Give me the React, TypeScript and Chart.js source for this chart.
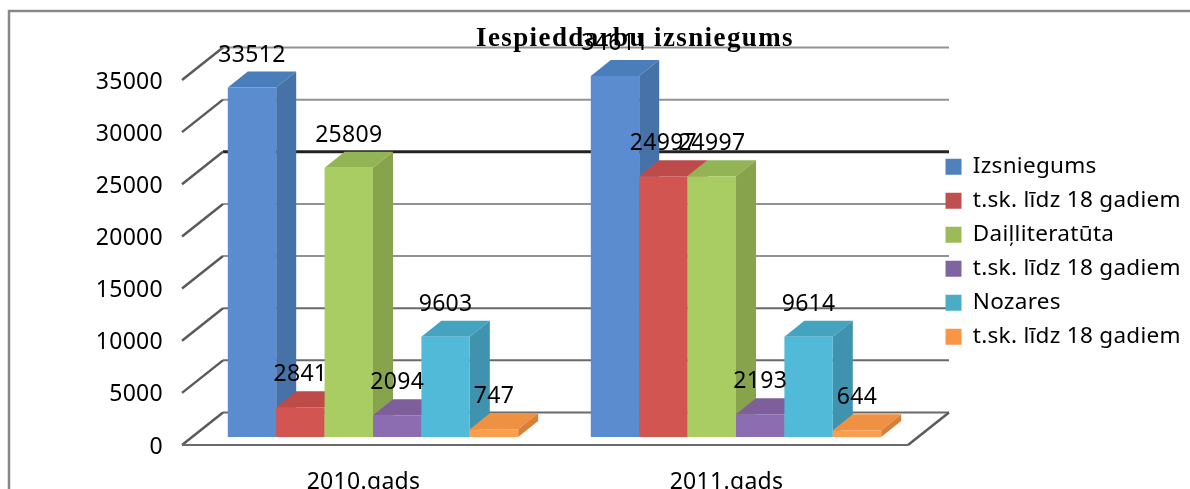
import React, { useEffect, useRef } from "react";
import { Chart, registerables } from "chart.js";

Chart.register(...registerables);

const categories = ["2010.gads", "2011.gads"];
const seriesNames = ["Izsniegums", "t.sk. līdz 18 gadiem", "Daiļliteratūta", "t.sk. līdz 18 gadiem", "Nozares", "t.sk. līdz 18 gadiem"];
const izsniegums = [33512, 34611];
const lidz18a = [2841, 24997];
const dailliteratura = [25809, 24997];
const lidz18b = [2094, 2193];
const nozares = [9603, 9614];
const lidz18c = [747, 644];
const seriesValues = [izsniegums, lidz18a, dailliteratura, lidz18b, nozares, lidz18c];

const frontColors = ["#5A8CCF", "#D25552", "#A9CD62", "#8C6DB2", "#50BAD8", "#F99F4E"];
const sideColors = ["#4672A8", "#B84B49", "#87A44D", "#765A95", "#3F93AE", "#D87F38"];
const topColors = ["#4A7EBB", "#BC4B4A", "#93B454", "#7F5E9C", "#44A4BF", "#EE9142"];
const legendColors = ["#4F81BD", "#C0504D", "#9BBB59", "#8064A2", "#4BACC6", "#F79646"];

const FONT = "'Noto Sans'";
const TEXT_SIZE = 23;
const barShift = { x: 9.5, y: -8 };
const barDepth = { x: 20, y: -16 };
const wallDepth = { x: 41, y: -32.5 };

function polygon(ctx: CanvasRenderingContext2D, pts: number[][], fill: string) {
  ctx.beginPath();
  pts.forEach((p, i) => (i ? ctx.lineTo(p[0], p[1]) : ctx.moveTo(p[0], p[1])));
  ctx.closePath();
  ctx.fillStyle = fill;
  ctx.fill();
}

const chart3d = {
  id: "chart3d",
  beforeDraw(chart: any) {
    const ctx: CanvasRenderingContext2D = chart.ctx;
    (ctx as any).letterSpacing = "0.3px";
    const { left, right, bottom } = chart.chartArea;
    const y = chart.scales.y;

    // page frame
    ctx.save();
    ctx.strokeStyle = "#888888";
    ctx.lineWidth = 2.5;
    ctx.beginPath();
    ctx.moveTo(9, 489);
    ctx.lineTo(9, 11);
    ctx.lineTo(1190, 11);
    ctx.stroke();

    // walls: back grid lines and the diagonal depth ticks
    y.ticks.forEach((t: any) => {
      const py = y.getPixelForValue(t.value);
      const heavy = t.value === 25000;
      ctx.strokeStyle = heavy ? "#222222" : t.value <= 10000 ? "#6A6A6A" : "#939393";
      ctx.lineWidth = heavy ? 3 : 2;
      ctx.beginPath();
      ctx.moveTo(left + wallDepth.x, py + wallDepth.y);
      ctx.lineTo(right + wallDepth.x, py + wallDepth.y);
      ctx.stroke();
      ctx.strokeStyle = "#5A5A5A";
      ctx.lineWidth = 2.5;
      ctx.beginPath();
      ctx.moveTo(left, py);
      ctx.lineTo(left + wallDepth.x, py + wallDepth.y);
      ctx.stroke();
    });
    ctx.strokeStyle = "#6A6A6A";
    ctx.lineWidth = 2;
    ctx.beginPath();
    ctx.moveTo(left, bottom);
    ctx.lineTo(right, bottom);
    ctx.stroke();
    ctx.strokeStyle = "#5A5A5A";
    ctx.lineWidth = 2.5;
    ctx.beginPath();
    ctx.moveTo(right, bottom);
    ctx.lineTo(right + wallDepth.x, bottom + wallDepth.y);
    ctx.stroke();
    ctx.restore();

    // free placement of title and legend
    const title = chart.titleBlock;
    title.left = 80;
    title.right = 1190;
    if (!title.__spaced) {
      title.__spaced = true;
      const drawTitle = title.draw;
      title.draw = function (...args: any[]) {
        ctx.save();
        (ctx as any).letterSpacing = "1.4px";
        drawTitle.apply(title, args);
        ctx.restore();
      };
    }
    const legend = chart.legend;
    legend.left = 934;
    legend.right = 1190;
    legend.top = 144;
    legend.bottom = 489;
  },
  beforeDatasetsDraw(chart: any) {
    const ctx: CanvasRenderingContext2D = chart.ctx;
    ctx.save();
    ctx.translate(barShift.x, barShift.y);
    categories.forEach((_, c) => {
      seriesValues.forEach((_v, s) => {
        const el = chart.getDatasetMeta(s).data[c];
        const l = el.x - el.width / 2;
        const r = el.x + el.width / 2;
        const { x: dx, y: dy } = barDepth;
        polygon(ctx, [[l, el.y], [l + dx, el.y + dy], [r + dx, el.y + dy], [r, el.y]], topColors[s]);
        polygon(ctx, [[r, el.y], [r + dx, el.y + dy], [r + dx, el.base + dy], [r, el.base]], sideColors[s]);
        el.draw(ctx);
      });
    });
    ctx.fillStyle = "#000000";
    ctx.font = `${TEXT_SIZE}px ${FONT}`;
    ctx.textAlign = "center";
    ctx.textBaseline = "middle";
    seriesValues.forEach((vals, s) => {
      vals.forEach((v, c) => {
        const el = chart.getDatasetMeta(s).data[c];
        ctx.fillText(String(v), el.x, el.y - 32.5);
      });
    });
    ctx.restore();
    return false;
  },
};

export default function App() {
  const ref = useRef<HTMLCanvasElement>(null);
  useEffect(() => {
    const chart = new Chart(ref.current as HTMLCanvasElement, {
      type: "bar",
      data: {
        labels: categories,
        datasets: seriesValues.map((data, i) => ({
          label: seriesNames[i],
          data,
          backgroundColor: frontColors[i],
          borderWidth: 0,
          categoryPercentage: 0.8,
          barPercentage: 1,
        })),
      },
      options: {
        responsive: false,
        animation: false,
        layout: { padding: { top: 0, left: 0, right: 82, bottom: 0 } },
        plugins: {
          tooltip: { enabled: false },
          title: {
            display: true,
            text: "Iespieddarbu izsniegums",
            color: "#000000",
            font: { family: "'Liberation Serif'", size: 27, weight: "bold", lineHeight: 1.2 },
            padding: { top: 22.8, bottom: 24.8 },
          },
          legend: {
            display: true,
            position: "right",
            align: "start",
            maxWidth: 200,
            labels: {
              boxWidth: 16,
              boxHeight: 16,
              padding: 11.5,
              color: "#000000",
              font: { family: FONT, size: 22.5 },
              generateLabels: () =>
                seriesNames.map((text, i) => ({
                  text,
                  fillStyle: legendColors[i],
                  strokeStyle: legendColors[i],
                  lineWidth: 0,
                  hidden: false,
                  datasetIndex: i,
                })),
            },
          },
        },
        scales: {
          x: {
            grid: { display: false, drawTicks: false },
            border: { display: false },
            ticks: { color: "#000000", font: { family: FONT, size: TEXT_SIZE }, padding: 24, maxRotation: 0 },
            afterFit: (s: any) => { s.height = 44; },
          },
          y: {
            min: 0,
            max: 35000,
            grid: { display: false, drawTicks: false },
            border: { display: false },
            ticks: {
              stepSize: 5000,
              color: "#000000",
              font: { family: FONT, size: TEXT_SIZE },
              padding: 19,
              labelOffset: 2,
              callback: (v: any) => String(v),
            },
            afterFit: (s: any) => { s.width = 182; },
          },
        },
      },
      plugins: [chart3d],
    } as any);
    return () => chart.destroy();
  }, []);
  return (
    <div style={{ position: "absolute", left: 0, top: 0, width: 1190, height: 489, overflow: "hidden" }}>
      <canvas ref={ref} width={1190} height={489} style={{ display: "block" }} />
    </div>
  );
}
